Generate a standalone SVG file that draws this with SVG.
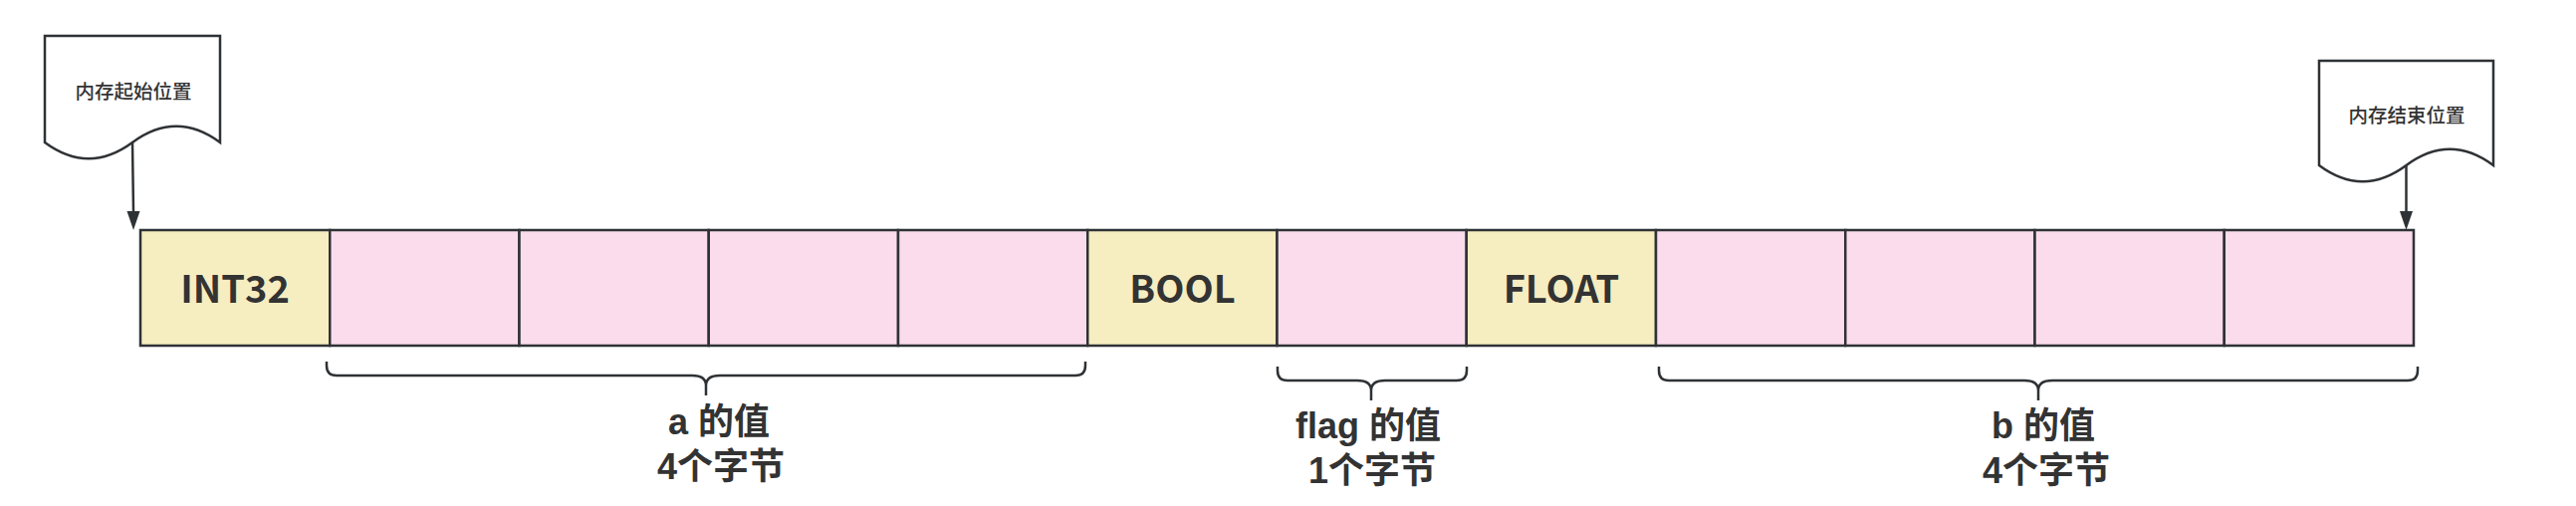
<svg xmlns="http://www.w3.org/2000/svg" width="2587" height="508" viewBox="0 0 2587 508">
<style>
.cell{stroke:#2f3235;stroke-width:2.5}
.y{fill:#f6edc1}
.p{fill:#fadcec}
.doc{fill:#ffffff;stroke:#2f3235;stroke-width:2.5}
.brace{fill:none;stroke:#2f3235;stroke-width:2.5;stroke-linejoin:round}
.conn{fill:none;stroke:#2f3235;stroke-width:2.5}
text{font-family:"Noto Sans CJK SC","Noto Sans",sans-serif;fill:#333333;text-anchor:middle}
.big{font-size:38px;font-weight:bold}
.lbl{font-family:"Liberation Sans","Noto Sans CJK SC",sans-serif;font-size:36px;font-weight:bold}
.small{font-size:19.5px;font-weight:500}
</style>
<rect width="2587" height="508" fill="#ffffff"/>
<g id="start-doc">
<path class="doc" d="M45,36 H221 V143 Q177,110.6 133,143 Q89,175.4 45,143 Z"/>
<text class="small" x="134" y="99">内存起始位置</text>
</g>
<g id="end-doc">
<path class="doc" d="M2329,61 H2504 V166 Q2460.25,133.6 2416.5,166 Q2372.75,198.4 2329,166 Z"/>
<text class="small" x="2417" y="123">内存结束位置</text>
</g>
<g id="cell-int32"><rect class="cell y" x="141" y="231" width="190.25" height="116"/><text class="big" x="236" y="304">INT32</text></g>
<g id="cell-a1"><rect class="cell p" x="331.25" y="231" width="190.25" height="116"/></g>
<g id="cell-a2"><rect class="cell p" x="521.5" y="231" width="190.25" height="116"/></g>
<g id="cell-a3"><rect class="cell p" x="711.75" y="231" width="190.25" height="116"/></g>
<g id="cell-a4"><rect class="cell p" x="902" y="231" width="190.25" height="116"/></g>
<g id="cell-bool"><rect class="cell y" x="1092.25" y="231" width="190.25" height="116"/><text class="big" x="1187.5" y="304">BOOL</text></g>
<g id="cell-flag"><rect class="cell p" x="1282.5" y="231" width="190.25" height="116"/></g>
<g id="cell-float"><rect class="cell y" x="1472.75" y="231" width="190.25" height="116"/><text class="big" x="1568" y="304">FLOAT</text></g>
<g id="cell-b1"><rect class="cell p" x="1663" y="231" width="190.25" height="116"/></g>
<g id="cell-b2"><rect class="cell p" x="1853.25" y="231" width="190.25" height="116"/></g>
<g id="cell-b3"><rect class="cell p" x="2043.5" y="231" width="190.25" height="116"/></g>
<g id="cell-b4"><rect class="cell p" x="2233.75" y="231" width="190.25" height="116"/></g>
<g id="brace-a">
<path class="brace" d="M328,363 V367 Q328,377 338,377 H695 Q709,377 709,387 V397 M709,387 Q709,377 723,377 H1080 Q1090,377 1090,367 V363"/>
<text class="lbl"><tspan x="722" y="436">a 的值</tspan><tspan x="724" y="481">4个字节</tspan></text>
</g>
<g id="brace-flag">
<path class="brace" d="M1283,368 V372 Q1283,382 1293,382 H1363 Q1377,382 1377,392 V402 M1377,392 Q1377,382 1391,382 H1463 Q1473,382 1473,372 V368"/>
<text class="lbl"><tspan x="1374" y="440">flag 的值</tspan><tspan x="1378" y="485">1个字节</tspan></text>
</g>
<g id="brace-b">
<path class="brace" d="M1666,368 V372 Q1666,382 1676,382 H2033 Q2047,382 2047,392 V402 M2047,392 Q2047,382 2061,382 H2418 Q2428,382 2428,372 V368"/>
<text class="lbl"><tspan x="2052" y="440">b 的值</tspan><tspan x="2055" y="485">4个字节</tspan></text>
</g>
<g id="connectors">
<line class="conn" x1="133" y1="143" x2="134" y2="213"/>
<path d="M127.5,212 L140.5,212 L134,231 Z" fill="#2f3235"/>
<line class="conn" x1="2416.5" y1="166" x2="2416.5" y2="213"/>
<path d="M2410,212 L2423,212 L2416.5,231 Z" fill="#2f3235"/>
</g>
</svg>
